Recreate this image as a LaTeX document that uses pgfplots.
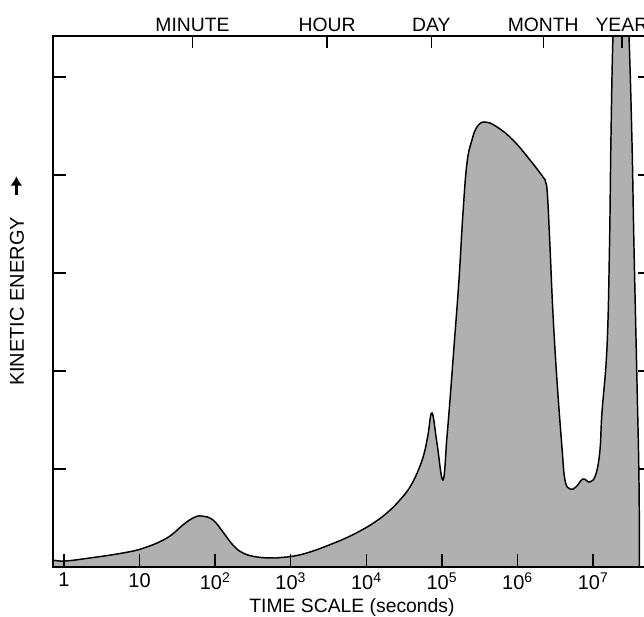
\documentclass[border=0pt]{standalone}
\usepackage{fontspec}
\setmainfont{Liberation Sans}
\usepackage{pgfplots}
\pgfplotsset{compat=1.18}
\usetikzlibrary{arrows.meta}
\definecolor{fillgray}{RGB}{176,176,176}

\begin{document}
\begin{tikzpicture}
% x is log10 of the time scale in seconds
\begin{axis}[
  scale only axis,
  width=448.5pt, height=398.25pt,
  xmin=-0.145, xmax=7.765,
  ymin=0, ymax=5.418,
  xtick={0,...,7},
  xticklabels={1,10,10\textsuperscript{2},10\textsuperscript{3},10\textsuperscript{4},10\textsuperscript{5},10\textsuperscript{6},10\textsuperscript{7}},
  xtick pos=left,
  ytick={1,...,5},
  yticklabel=\empty,
  tick align=inside,
  major tick length=9.5pt,
  every tick/.style={black, line width=1pt},
  axis line style={line width=1.1pt},
  axis on top,
  xticklabel style={font=\fontsize{15}{17}\selectfont, yshift=-1pt},
]
\addplot[fill=fillgray, draw=black, line width=1.1pt, smooth, tension=0.7] coordinates {
  (-0.145,0.071) (0.013,0.061) (0.344,0.092) (0.780,0.143) (1.058,0.194)
  (1.362,0.296) (1.574,0.429) (1.706,0.5) (1.825,0.520) (1.971,0.480)
  (2.103,0.357) (2.235,0.224) (2.368,0.143) (2.553,0.102) (2.765,0.092)
  (2.857,0.096) (2.989,0.106) (3.122,0.124) (3.254,0.153) (3.386,0.188)
  (3.558,0.240) (3.717,0.291) (3.915,0.367) (4.114,0.459) (4.286,0.561)
  (4.444,0.684) (4.577,0.816) (4.683,0.980) (4.762,1.153) (4.815,1.347)
  (4.868,1.571) (4.934,1.265) (5.013,0.888) (5.066,1.327) (5.106,1.704)
  (5.159,2.245) (5.225,2.929) (5.278,3.612)
  (5.331,4.122) (5.397,4.357) (5.463,4.49) (5.569,4.541) (5.728,4.49)
  (5.939,4.357) (6.164,4.153) (6.336,3.98) (6.370,3.93) (6.395,3.80)
  (6.429,3.265) (6.468,2.592) (6.521,1.908) (6.587,1.224) (6.627,0.888)
  (6.693,0.796) (6.772,0.816) (6.865,0.898) (6.958,0.867) (7.037,0.949)
  (7.09,1.194) (7.116,1.571) (7.183,2.245) (7.216,3.265) (7.235,4.357)
  (7.262,5.418) (7.302,6.09) (7.368,6.2) (7.434,6.09) (7.474,5.418)
  (7.513,4.357) (7.540,3.265) (7.579,1.908) (7.606,0.888) (7.612,0)
} \closedcycle;
\coordinate (sw) at (rel axis cs:0,0);
\end{axis}
\begin{axis}[
  scale only axis,
  width=448.5pt, height=398.25pt,
  xmin=-0.145, xmax=7.765,
  ymin=0, ymax=5.418,
  axis x line*=top,
  axis y line=none,
  xtick={1.70,3.48,4.86,6.34,7.38},
  xticklabels={MINUTE,HOUR,DAY,MONTH,YEAR},
  tick align=inside,
  major tick length=9pt,
  every tick/.style={black, line width=1pt},
  axis line style={line width=1.1pt, -},
  xticklabel style={font=\fontsize{14.5}{16}\selectfont},
]
\end{axis}
\node[rotate=90, font=\fontsize{15}{17}\selectfont] at ([xshift=-27pt,yshift=199.1pt]sw) {KINETIC ENERGY};
\draw[-{Latex[length=7pt,width=9pt]}, line width=2pt] ([xshift=-27.5pt,yshift=279pt]sw) -- ([xshift=-27.5pt,yshift=293pt]sw);
\node[anchor=base, font=\fontsize{14.5}{17}\selectfont] at ([xshift=224.25pt,yshift=-34pt]sw) {TIME SCALE (seconds)};
\pgfresetboundingbox
\path[use as bounding box] ([xshift=-39.75pt,yshift=-37.5pt]sw) rectangle ([xshift=443.25pt,yshift=425.25pt]sw);
\end{tikzpicture}
\end{document}
